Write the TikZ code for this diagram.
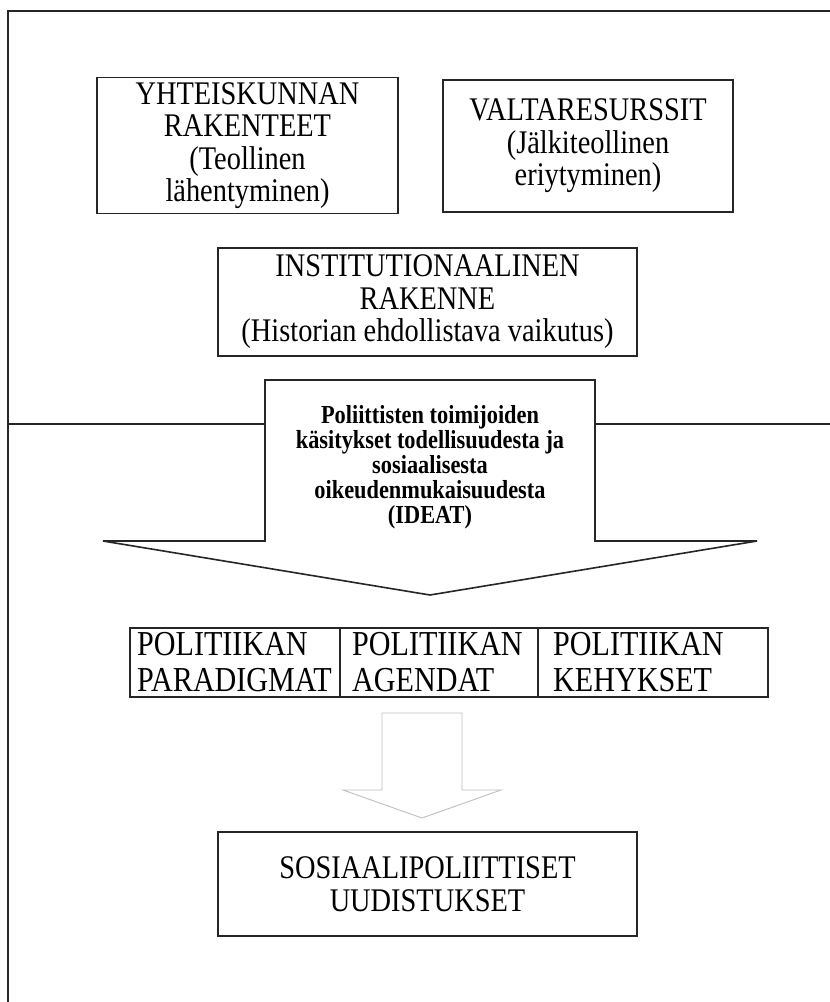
\documentclass[tikz,border=0pt]{standalone}
\usepackage{fontspec}
\setmainfont{Liberation Serif}[FakeStretch=0.86]
\begin{document}
\begin{tikzpicture}[x=1pt,y=-1pt,
  ink/.style={draw=black!85, line width=1.6pt},
  box/.style={ink, rectangle, inner sep=0pt, align=center,
    font=\fontsize{33}{32.5}\selectfont},
  celltext/.style={inner sep=0pt, align=left, anchor=west,
    font=\fontsize{35}{36}\selectfont},
  hollow/.style={draw=black!25, line width=0.9pt, line join=miter}]
\useasboundingbox (0,0) rectangle (830,1002);
\fill[white] (0,0) rectangle (830,1002);

% outer frame (top and left edges)
\draw[ink] (8,1002) -- (8,11) -- (830,11);

% upper part: structures, resources, institutions
\node[box, minimum width=301pt, minimum height=136pt] (rak) at (247.5,145.5)
  {YHTEISKUNNAN\\RAKENTEET\\(Teollinen\\lähentyminen)};
\node[box, minimum width=290pt, minimum height=132pt] (val) at (588,146)
  {VALTARESURSSIT\\(Jälkiteollinen\\eriytyminen)};
\node[box, minimum width=419pt, minimum height=108pt] (inst) at (427.5,302)
  {INSTITUTIONAALINEN\\RAKENNE\\(Historian ehdollistava vaikutus)};

% divider between the two halves
\draw[ink] (8,424) -- (265,424);
\draw[ink] (595,424) -- (830,424);

% large block arrow carrying the ideas
\draw[ink, line join=miter] (265,380) -- (595,380) -- (595,541) -- (757,541)
  -- (430,595) -- (103,541) -- (265,541) -- cycle;
\node[inner sep=0pt, align=center, font=\bfseries\fontsize{26}{25}\selectfont]
  (ideat) at (430,467)
  {Poliittisten toimijoiden\\käsitykset todellisuudesta ja\\sosiaalisesta\\oikeudenmukaisuudesta\\(IDEAT)};

% row of policy elements
\draw[ink] (130,628) rectangle (768,697);
\draw[ink] (340,628) -- (340,697);
\draw[ink] (538,628) -- (538,697);
\node[celltext] (par) at (137,662.5) {POLITIIKAN\\PARADIGMAT};
\node[celltext] (age) at (352,662.5) {POLITIIKAN\\AGENDAT};
\node[celltext] (keh) at (553,662.5) {POLITIIKAN\\KEHYKSET};

% light hollow arrow
\draw[hollow] (382,713) -- (462,713) -- (462,790) -- (501,790) -- (422,818)
  -- (343,790) -- (382,790) -- cycle;

% outcome
\node[box, minimum width=419pt, minimum height=104pt] (ref) at (427.5,884)
  {SOSIAALIPOLIITTISET\\UUDISTUKSET};
\end{tikzpicture}
\end{document}
